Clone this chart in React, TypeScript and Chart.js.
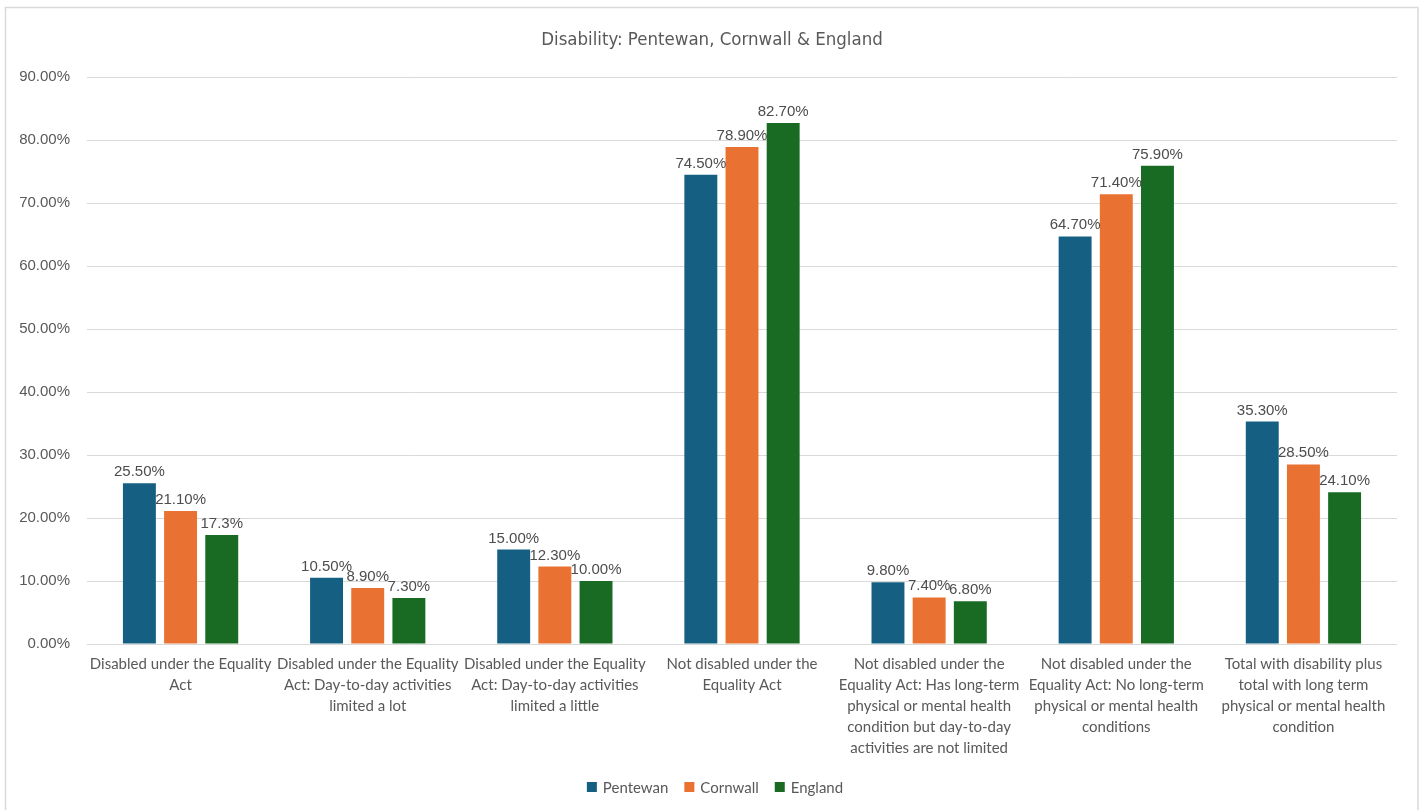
import React, { useEffect, useRef } from "react";
import { Chart, registerables } from "chart.js";

Chart.register(...registerables);

const chartTitle = "Disability: Pentewan, Cornwall & England";

const categories: string[][] = [
  ["Disabled under the Equality", "Act"],
  ["Disabled under the Equality", "Act: Day-to-day activities", "limited a lot"],
  ["Disabled under the Equality", "Act: Day-to-day activities", "limited a little"],
  ["Not disabled under the", "Equality Act"],
  [
    "Not disabled under the",
    "Equality Act: Has long-term",
    "physical or mental health",
    "condition but day-to-day",
    "activities are not limited",
  ],
  ["Not disabled under the", "Equality Act: No long-term", "physical or mental health", "conditions"],
  ["Total with disability plus", "total with long term", "physical or mental health", "condition"],
];

const seriesNames = ["Pentewan", "Cornwall", "England"];
const seriesColors = ["#156082", "#E97132", "#196B24"];

const pentewanValues = [25.5, 10.5, 15.0, 74.5, 9.8, 64.7, 35.3];
const cornwallValues = [21.1, 8.9, 12.3, 78.9, 7.4, 71.4, 28.5];
const englandValues = [17.3, 7.3, 10.0, 82.7, 6.8, 75.9, 24.1];

const pentewanLabels = ["25.50%", "10.50%", "15.00%", "74.50%", "9.80%", "64.70%", "35.30%"];
const cornwallLabels = ["21.10%", "8.90%", "12.30%", "78.90%", "7.40%", "71.40%", "28.50%"];
const englandLabels = ["17.3%", "7.30%", "10.00%", "82.70%", "6.80%", "75.90%", "24.10%"];

const yTickMin = 0;
const yTickMax = 90;
const yTickStep = 10;

const TEXT = "#595959";
const GRID = "#D9D9D9";
const VALUE_FONT = "'Liberation Sans', Arial, sans-serif";
const CAT_FONT = "Lato, 'Open Sans', sans-serif";
const TITLE_FONT = "'Liberation Sans Narrow', 'DejaVu Sans Condensed', sans-serif";

const allLabels = [pentewanLabels, cornwallLabels, englandLabels];

const framePlugin = {
  id: "frame",
  beforeDraw(chart: any) {
    const ctx = chart.ctx;
    ctx.save();
    ctx.fillStyle = "#FFFFFF";
    ctx.fillRect(0, 0, chart.width, chart.height);
    ctx.strokeStyle = GRID;
    ctx.lineWidth = 1.5;
    ctx.strokeRect(5.5, 7.5, 1412.5, 830);
    ctx.restore();
  },
};

const dataLabelPlugin = {
  id: "dataLabels",
  afterDatasetsDraw(chart: any) {
    const ctx = chart.ctx;
    ctx.save();
    ctx.font = `15px ${VALUE_FONT}`;
    ctx.fillStyle = "#4D4D4D";
    ctx.textAlign = "center";
    ctx.textBaseline = "alphabetic";
    chart.data.datasets.forEach((ds: any, di: number) => {
      const meta = chart.getDatasetMeta(di);
      meta.data.forEach((bar: any, i: number) => {
        ctx.fillText(allLabels[di][i], bar.x, bar.y - 7);
      });
    });
    ctx.restore();
  },
};

const titleLegendPlugin = {
  id: "titleLegend",
  afterDraw(chart: any) {
    const ctx = chart.ctx;
    ctx.save();
    ctx.fillStyle = TEXT;
    ctx.textAlign = "center";
    ctx.textBaseline = "middle";
    ctx.font = `18.5px ${TITLE_FONT}`;
    ctx.fillText(chartTitle, 712, 40);

    // legend
    ctx.font = `15px ${CAT_FONT}`;
    const box = 10;
    const gapBoxText = 6;
    const gapItems = 16;
    const widths = seriesNames.map((n) => ctx.measureText(n).width);
    const total =
      widths.reduce((a, b) => a + b, 0) + seriesNames.length * (box + gapBoxText) + gapItems * (seriesNames.length - 1);
    let x = 715 - total / 2;
    const y = 787;
    ctx.textAlign = "left";
    seriesNames.forEach((n, i) => {
      ctx.fillStyle = seriesColors[i];
      ctx.fillRect(x, y - box / 2, box, box);
      x += box + gapBoxText;
      ctx.fillStyle = TEXT;
      ctx.fillText(n, x, y + 1);
      x += widths[i] + gapItems;
    });
    ctx.restore();
  },
};

export default function App() {
  const canvasRef = useRef<HTMLCanvasElement | null>(null);

  useEffect(() => {
    if (!canvasRef.current) return;
    const chart = new Chart(canvasRef.current, {
      type: "bar",
      data: {
        labels: categories,
        datasets: [
          { label: seriesNames[0], data: pentewanValues, backgroundColor: seriesColors[0] },
          { label: seriesNames[1], data: cornwallValues, backgroundColor: seriesColors[1] },
          { label: seriesNames[2], data: englandValues, backgroundColor: seriesColors[2] },
        ],
      },
      options: {
        animation: false,
        responsive: false,
        maintainAspectRatio: false,
        datasets: { bar: { categoryPercentage: 0.66, barPercentage: 0.8 } },
        layout: { padding: { left: 0, right: 26, top: 77, bottom: 0 } },
        plugins: {
          legend: { display: false },
          title: { display: false },
          tooltip: { enabled: false },
        },
        scales: {
          x: {
            grid: { display: false, drawTicks: false },
            border: { display: false },
            ticks: {
              color: TEXT,
              font: { family: CAT_FONT, size: 15, lineHeight: "21px" as any },
              padding: 10,
              maxRotation: 0,
              minRotation: 0,
              autoSkip: false,
            },
            afterFit: (scale: any) => {
              scale.height = 166;
            },
          },
          y: {
            min: yTickMin,
            max: yTickMax,
            grid: { color: GRID, lineWidth: 1, drawTicks: false },
            border: { display: false },
            ticks: {
              stepSize: yTickStep,
              color: TEXT,
              padding: 17,
              font: { family: VALUE_FONT, size: 15 },
              callback: (v: any) => Number(v).toFixed(2) + "%",
            },
            afterFit: (scale: any) => {
              scale.width = 87;
            },
          },
        },
      },
      plugins: [framePlugin, dataLabelPlugin, titleLegendPlugin],
    });
    return () => chart.destroy();
  }, []);

  return (
    <div style={{ position: "fixed", left: 0, top: 0, width: 1423, height: 810, background: "#fff" }}>
      <canvas ref={canvasRef} width={1423} height={810} style={{ display: "block" }} />
    </div>
  );
}
